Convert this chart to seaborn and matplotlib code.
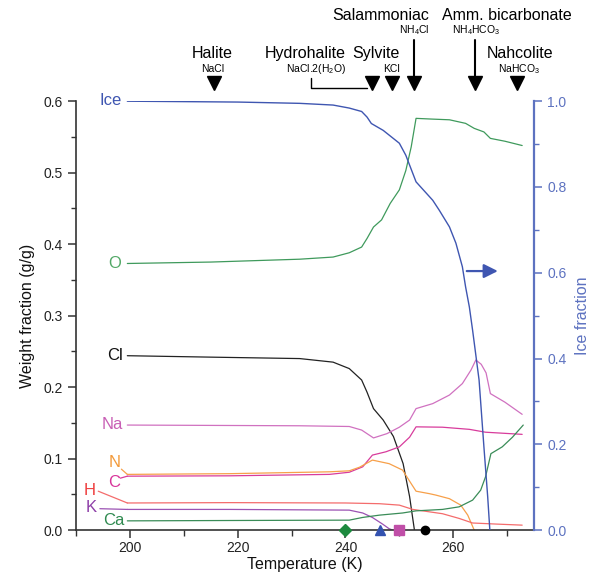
import matplotlib
matplotlib.use("Agg")
import matplotlib.pyplot as plt
from matplotlib.ticker import MultipleLocator, FormatStrFormatter
import seaborn as sns

# curves, temperature in K
temp_ice = [199.5, 210, 220, 231.5, 237.7, 240.7, 243, 244, 244.8, 247, 248.9, 250, 251.2, 253.1,
            256.2, 257.4, 259.3, 260.5, 261.7, 262.3, 263, 263.6, 264.8, 265.7, 266.4, 266.8]
ice_frac = [1.0, 0.999, 0.998, 0.995, 0.991, 0.984, 0.976, 0.963, 0.948, 0.932, 0.913, 0.902, 0.874, 0.812,
            0.769, 0.746, 0.707, 0.669, 0.614, 0.567, 0.52, 0.466, 0.35, 0.194, 0.078, 0.0]

temp_o = [199.5, 215, 231.5, 237.7, 240.7, 243, 244, 245.2, 246.7, 248.3, 250, 251.2, 252.2, 253.1,
          256, 259.3, 262.3, 263.9, 265.7, 266.9, 269.6, 272.8]
wf_o = [0.373, 0.375, 0.379, 0.382, 0.388, 0.396, 0.408, 0.424, 0.434, 0.457, 0.476, 0.503, 0.536, 0.576,
        0.575, 0.574, 0.569, 0.562, 0.557, 0.548, 0.544, 0.538]

temp_cl = [199.5, 215, 231.5, 237.7, 240.7, 243, 244, 245.2, 247, 248.9, 250.7, 251.9, 252.8]
wf_cl = [0.244, 0.242, 0.240, 0.235, 0.226, 0.21, 0.193, 0.170, 0.154, 0.131, 0.093, 0.047, 0.0]

temp_na = [199.5, 231.5, 240.7, 243, 245.2, 247.7, 250, 251.9, 253.1, 256.2, 259.3, 261.7, 263.3,
           264.2, 265.2, 266.1, 266.9, 269.6, 272.8]
wf_na = [0.147, 0.146, 0.145, 0.14, 0.129, 0.135, 0.144, 0.154, 0.170, 0.177, 0.189, 0.205, 0.224,
         0.238, 0.232, 0.22, 0.191, 0.179, 0.162]

temp_c = [199.5, 218.5, 237, 240.7, 243.2, 245, 247.5, 250, 251.9, 253.1, 258, 263, 266, 272.8]
wf_c = [0.0755, 0.076, 0.078, 0.081, 0.0886, 0.105, 0.1096, 0.1165, 0.130, 0.1445, 0.144, 0.141, 0.137, 0.134]

temp_n = [199.5, 218.5, 237, 240.7, 242.6, 245, 248.1, 250.6, 252.2, 253.1, 255.6, 256.8, 259.3,
          261.4, 262.7, 263.9]
wf_n = [0.078, 0.079, 0.0816, 0.083, 0.088, 0.098, 0.093, 0.084, 0.065, 0.0545, 0.051, 0.049, 0.044,
        0.035, 0.021, 0.0]

temp_h = [199.5, 218.5, 240, 246.3, 250, 252.5, 255.6, 258, 261.1, 263.6, 268, 272.8]
wf_h = [0.038, 0.0385, 0.038, 0.037, 0.035, 0.029, 0.0256, 0.023, 0.0164, 0.010, 0.0085, 0.007]

temp_k = [199.5, 218.5, 240.7, 243.2, 245, 246.9, 248.1, 248.8]
wf_k = [0.029, 0.029, 0.028, 0.024, 0.0177, 0.0084, 0.002, 0.0]

temp_ca = [199.5, 218.5, 240.7, 243.2, 246.3, 250.6, 253.1, 258, 261.1, 263.6, 265.1, 266, 267, 269.1,
           271, 273]
wf_ca = [0.013, 0.0135, 0.014, 0.0178, 0.021, 0.024, 0.027, 0.029, 0.0326, 0.042, 0.056, 0.0746, 0.107,
         0.1165, 0.130, 0.147]

# minerals marked above the plot
mineral_names = ["Halite", "Hydrohalite", "Sylvite", "Salammoniac", "Amm. bicarbonate", "Nahcolite"]
mineral_formulas = ["NaCl", r"NaCl.2(H$_2$O)", "KCl", r"NH$_4$Cl", r"NH$_4$HCO$_3$", r"NaHCO$_3$"]
mineral_temps = [215.5, 244.9, 248.6, 252.8, 264.0, 271.9]

# markers on the temperature axis
marker_temps = [240, 246.5, 250, 254.8]

ICE_BLUE = "#3f56b1"
AXIS_BLUE = "#5d72c0"

sns.set_theme(style="ticks")
plt.rcParams["font.family"] = ["Liberation Sans", "DejaVu Sans"]
plt.rcParams["mathtext.fontset"] = "custom"
plt.rcParams["mathtext.rm"] = "Liberation Sans"
plt.rcParams["mathtext.it"] = "Liberation Sans:italic"

fig, ax = plt.subplots(figsize=(5.95, 5.75), dpi=100)
fig.subplots_adjust(left=0.128, right=0.8975, bottom=0.078, top=0.824)
ax2 = ax.twinx()

species = [
    ("O", temp_o, wf_o, "#3f9a5c", "#52a866"),
    ("Cl", temp_cl, wf_cl, "#222222", "#111111"),
    ("Na", temp_na, wf_na, "#d071c0", "#c85fb5"),
    ("C", temp_c, wf_c, "#d83c9c", "#d8349a"),
    ("N", temp_n, wf_n, "#f7a04a", "#f39a3a"),
    ("H", temp_h, wf_h, "#f46c6c", "#ee3d3d"),
    ("K", temp_k, wf_k, "#9b52b3", "#8e3fa8"),
    ("Ca", temp_ca, wf_ca, "#3a8c58", "#2f8a50"),
]
for name, t, w, col, _ in species:
    sns.lineplot(x=t, y=w, ax=ax, color=col, lw=0.9, estimator=None, sort=False)

sns.lineplot(x=temp_ice, y=ice_frac, ax=ax2, color=ICE_BLUE, lw=1.0, estimator=None, sort=False)

# curve labels at the left end
label_pos = {
    "O": (198.4, 0.3734), "Cl": (198.7, 0.244), "Na": (198.7, 0.148),
    "N": (198.3, 0.0944), "C": (198.1, 0.0664), "H": (193.7, 0.0552),
    "K": (193.9, 0.0315), "Ca": (198.9, 0.0140),
}
for name, t, w, col, lab_col in species:
    x, y = label_pos[name]
    ax.text(x, y, name, color=lab_col, fontsize=12, ha="right", va="center")
ax.text(198.4, 0.6005, "Ice", color=ICE_BLUE, fontsize=12, ha="right", va="center")

# leader lines for the crowded labels
leaders = [
    ("N", (198.4, 0.0853), (199.5, 0.078)),
    ("C", (198.2, 0.0727), (199.5, 0.0755)),
    ("H", (194.1, 0.0545), (199.5, 0.038)),
    ("K", (194.4, 0.0300), (199.5, 0.029)),
]
lead_col = {s[0]: s[3] for s in species}
for name, p0, p1 in leaders:
    ax.plot([p0[0], p1[0]], [p0[1], p1[1]], color=lead_col[name], lw=0.9)

# ice fraction arrow
ax2.annotate("", xy=(268.8, 0.604), xytext=(262.0, 0.604),
             arrowprops=dict(arrowstyle="-|>,head_length=0.6,head_width=0.3", color=ICE_BLUE, lw=1.6,
                             mutation_scale=14))

# markers on the x axis
mk_style = [("D", "#1d8a3e", 6), ("^", "#3352b0", 7.5), ("s", "#c04fa8", 6.5), ("o", "black", 6)]
for t, (m, c, s) in zip(marker_temps, mk_style):
    ax.plot(t, 0, marker=m, color=c, ms=s, clip_on=False, zorder=5, ls="none")

# minerals above the axes
trans = ax.get_xaxis_transform()
tri_y = 1.043
for name, formula, t in zip(mineral_names, mineral_formulas, mineral_temps):
    ax.plot(t, tri_y, marker="v", color="black", ms=10, transform=trans, clip_on=False)

name_pos = {
    "Halite": (215.3, 1.112, 215.3, 1.0746),
    "Hydrohalite": (232.6, 1.112, 234.6, 1.0746),
    "Sylvite": (245.7, 1.112, 248.6, 1.0746),
    "Salammoniac": (246.6, 1.2005, 252.8, 1.1655),
    "Amm. bicarbonate": (270.0, 1.2005, 264.2, 1.1655),
    "Nahcolite": (272.5, 1.112, 272.2, 1.0746),
}
for name, formula in zip(mineral_names, mineral_formulas):
    xn, yn, xf, yf = name_pos[name]
    ax.text(xn, yn, name, transform=trans, ha="center", va="center", fontsize=11.5, color="black")
    ax.text(xf, yf, formula, transform=trans, ha="center", va="center", fontsize=7.5, color="black")

# arrow shafts for salammoniac and ammonium bicarbonate
for t in mineral_temps[3:5]:
    ax.plot([t, t], [1.142, 1.05], color="black", lw=1.5, transform=trans, clip_on=False)

# hydrohalite bracket
ax.plot([233.6, 233.6, 244.0], [1.054, 1.030, 1.030], color="black", lw=1.0,
        transform=trans, clip_on=False)

# axes styling
ax.set_xlim(190, 275)
ax.set_ylim(0, 0.6)
ax2.set_ylim(0, 1.0)

ax.xaxis.set_major_locator(MultipleLocator(20))
ax.xaxis.set_minor_locator(MultipleLocator(10))
ax.set_xticks([200, 220, 240, 260])
ax.yaxis.set_major_locator(MultipleLocator(0.1))
ax.yaxis.set_minor_locator(MultipleLocator(0.05))
ax.yaxis.set_major_formatter(FormatStrFormatter("%.1f"))
ax2.yaxis.set_major_locator(MultipleLocator(0.2))
ax2.yaxis.set_minor_locator(MultipleLocator(0.1))
ax2.yaxis.set_major_formatter(FormatStrFormatter("%.1f"))

for a in (ax, ax2):
    a.spines["top"].set_visible(False)
ax.spines["right"].set_visible(False)
ax2.spines["left"].set_visible(False)
ax2.spines["bottom"].set_visible(False)
ax.spines["left"].set_color("#333333")
ax.spines["bottom"].set_color("#333333")
ax.spines["left"].set_linewidth(1.2)
ax.spines["bottom"].set_linewidth(1.2)
ax2.spines["right"].set_color(AXIS_BLUE)
ax2.spines["right"].set_linewidth(1.6)

ax.tick_params(axis="both", which="major", length=6, width=1.1, color="#333333",
               labelsize=10, labelcolor="#222222")
ax.tick_params(axis="both", which="minor", length=3.5, width=1.0, color="#333333")
ax.tick_params(axis="x", which="minor", length=4)
ax.tick_params(axis="x", which="major", pad=2)
ax2.tick_params(axis="y", which="major", length=6, width=1.1, color=AXIS_BLUE,
                labelsize=10, labelcolor=AXIS_BLUE)
ax2.tick_params(axis="y", which="minor", length=3.5, width=1.0, color=AXIS_BLUE)

ax.set_xlabel("Temperature (K)", fontsize=11.5, color="#111111", labelpad=1)
ax.set_ylabel("Weight fraction (g/g)", fontsize=11.5, color="#111111", labelpad=6)
ax2.set_ylabel("Ice fraction", fontsize=11.5, color=AXIS_BLUE, labelpad=6)

fig.savefig("out.png", dpi=100)
